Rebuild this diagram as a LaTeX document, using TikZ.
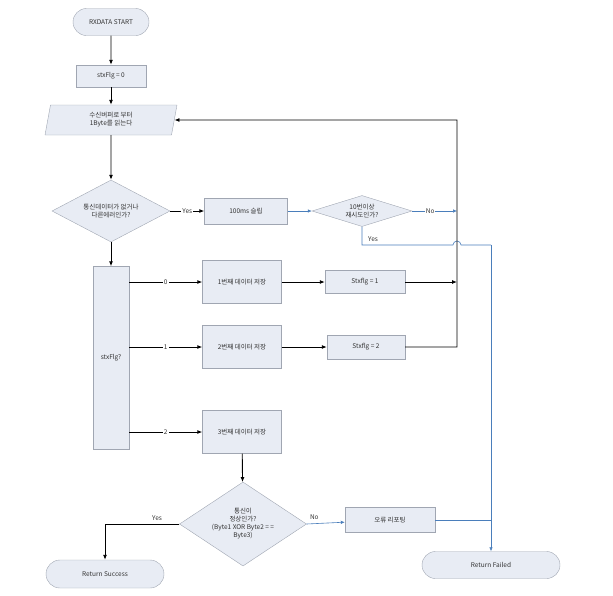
\documentclass[tikz,border=0pt]{standalone}
\usepackage{fontspec}
\setmainfont{Noto Sans CJK KR}
\usetikzlibrary{arrows.meta,shapes.geometric,shapes.misc}

\definecolor{boxfill}{RGB}{232,236,244}
\definecolor{boxline}{RGB}{160,166,178}
\definecolor{flowblue}{RGB}{74,126,187}
\definecolor{txt}{RGB}{50,50,50}

\tikzset{
  proc/.style={draw=boxline, fill=boxfill, inner sep=1pt, align=center, text=txt},
  term/.style={proc, rounded rectangle},
  io/.style={proc, trapezium, trapezium left angle=72, trapezium right angle=108,
    trapezium stretches body},
  decide/.style={proc, diamond, inner sep=0pt},
  lbl/.style={fill=white, inner sep=1pt, text=txt},
  arr/.style={-{Latex[length=5pt,width=4pt]}, line width=0.9pt},
  blarr/.style={draw=flowblue, -{Latex[length=4pt,width=3.5pt]}, line width=0.6pt},
  blline/.style={draw=flowblue, line width=0.6pt}
}

\begin{document}
\begin{tikzpicture}[x=1pt,y=-1pt, font=\fontsize{6.5}{8}\selectfont]
  \useasboundingbox (0,0) rectangle (613,595);

  \node[term, minimum width=78, minimum height=27] (start) at (111,22) {RXDATA START};
  \node[proc, minimum width=70, minimum height=22] (init) at (111,76) {stxFlg = 0};
  \node[io, minimum width=132, minimum height=30] (read) at (111,120) {수신버퍼로 부터\\1Byte를 읽는다};
  \node[decide, shape aspect=1.9, minimum width=118, minimum height=62] (d1) at (111,211)
    {통신데이터가 없거나\\다른에러인가?};
  \node[proc, minimum width=83, minimum height=26] (sleep) at (246,211) {100ms 슬립};
  \node[decide, shape aspect=3.2, minimum width=100, minimum height=31] (d2) at (362,211)
    {10번이상\\재시도인가?};

  \node[proc, minimum width=36, minimum height=183] (stx) at (111,358) {stxFlg?};
  \node[proc, minimum width=79, minimum height=43] (s1) at (242,282) {1번째 데이터 저장};
  \node[proc, minimum width=79, minimum height=43] (s2) at (242,347) {2번째 데이터 저장};
  \node[proc, minimum width=79, minimum height=43] (s3) at (242,432) {3번째 데이터 저장};
  \node[proc, minimum width=80, minimum height=23] (f1) at (365,282) {Stxflg = 1};
  \node[proc, minimum width=78, minimum height=24] (f2) at (366,347) {Stxflg = 2};

  \node[decide, shape aspect=1.5, minimum width=127, minimum height=84] (d3) at (243,524)
    {통신이\\정상인가?\\(Byte1 XOR Byte2 = =\\Byte3)};
  \node[proc, minimum width=90, minimum height=25] (report) at (390,520) {오류 리포팅};
  \node[term, minimum width=120, minimum height=28] (success) at (105,574) {Return Success};
  \node[term, minimum width=140, minimum height=27] (failed) at (491,565) {Return Failed};

  \coordinate (bustop) at (457,120);
  \coordinate (hopL) at (453,245);
  \coordinate (failturn) at (491,245);

  \draw[arr] (start) -- (init);
  \draw[arr] (init) -- (read);
  \draw[arr] (read) -- (d1);
  \draw[arr] (d1) -- node[lbl]{Yes} (sleep);
  \draw[arr] (d1) -- (stx);
  \draw[blarr] (sleep) -- (d2);
  \draw[blarr] (d2.east) -- node[lbl, pos=0.4]{No} (d2.east -| bustop);
  \draw[blline] (d2.south) |- (hopL) arc[start angle=180, end angle=360, radius=4]
    -- (failturn);
  \draw[blarr] (failturn) -- (failed.north);
  \node[text=txt] (yes2) at (373,239) {Yes};

  \draw[arr] (stx.east |- s1) -- node[lbl]{0} (s1);
  \draw[arr] (stx.east |- s2) -- node[lbl]{1} (s2);
  \draw[arr] (stx.east |- s3) -- node[lbl]{2} (s3);
  \draw[arr] (s1) -- (f1);
  \draw[arr] (s2) -- (f2);
  \draw[arr] (f1) -- (f1 -| bustop);
  \draw[arr] (f2.east) -| (bustop) -- (read.east);

  \draw[arr] (s3) -- (d3);
  \draw[arr] (d3.west) -| node[pos=0.15, above, text=txt]{Yes} (success);
  \draw[blarr] (d3.east) -- node[pos=0.2, above, text=txt]{No} (report);
  \draw[blline] (report.east) -- (report.east -| failed);
\end{tikzpicture}
\end{document}
